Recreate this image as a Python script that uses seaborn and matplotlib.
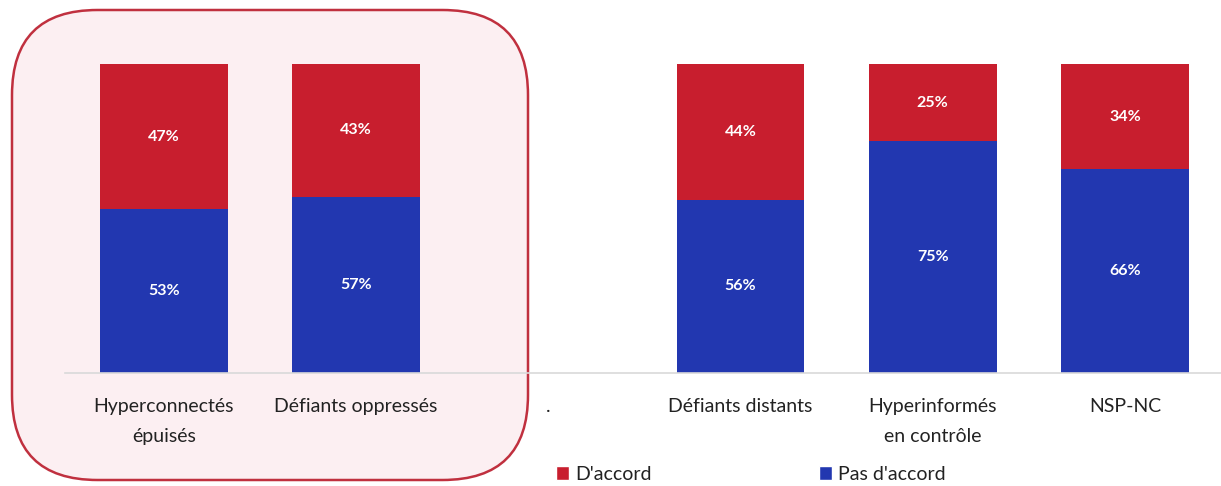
import matplotlib
matplotlib.use("Agg")
import matplotlib.pyplot as plt
import seaborn as sns
import pandas as pd
import numpy as np
from matplotlib.patches import FancyBboxPatch, Patch

categories = ["Hyperconnectés\népuisés", "Défiants oppressés", ".",
              "Défiants distants", "Hyperinformés\nen contrôle", "NSP-NC"]
d_accord = [47, 43, np.nan, 44, 25, 34]
pas_d_accord = [53, 57, np.nan, 56, 75, 66]
series_names = ["D'accord", "Pas d'accord"]

RED = "#C81E2E"
BLUE = "#2237B0"

sns.set_theme(style="white")
plt.rcParams['font.family'] = ['Lato', 'DejaVu Sans']

fig = plt.figure(figsize=(12.21, 4.86), dpi=100)
fig.patch.set_facecolor("white")

# highlight rounded box
box = FancyBboxPatch((12 / 1221, 1 - 480 / 486), (528 - 12) / 1221, (480 - 10) / 486,
                     boxstyle="round,pad=0,rounding_size=0.07",
                     transform=fig.transFigure, facecolor="#FCEFF2",
                     edgecolor="#C0303F", linewidth=1.8, zorder=-5, mutation_aspect=2.5)
fig.patches.append(box)

ax = fig.add_axes([65 / 1221, 1 - 373 / 486, 1 - 65 / 1221, (373 - 64) / 486])
ax.patch.set_alpha(0)
ax.set_zorder(1)

df = pd.DataFrame({"cat": categories,
                   "total": [a + b for a, b in zip(d_accord, pas_d_accord)],
                   "agree": d_accord, "disagree": pas_d_accord})

sns.barplot(data=df, x="cat", y="total", color=RED, width=0.665,
            saturation=1, ax=ax, order=categories, linewidth=0)
sns.barplot(data=df, x="cat", y="disagree", color=BLUE, width=0.665,
            saturation=1, ax=ax, order=categories, linewidth=0)

for i, (a, b) in enumerate(zip(d_accord, pas_d_accord)):
    if np.isnan(a):
        continue
    ax.text(i, b / 2, f"{int(b)}%", ha="center", va="center", color="white",
            fontsize=11.5, fontweight="bold")
    ax.text(i, b + a / 2, f"{int(a)}%", ha="center", va="center", color="white",
            fontsize=11.5, fontweight="bold")

ax.set_ylim(0, 100)
ax.set_xlim(-0.515, 5.5)
ax.set_xlabel("")
ax.set_ylabel("")
ax.set_yticks([])
ax.tick_params(axis="x", length=0, pad=18, labelsize=14, colors="#222222")
for lbl in ax.get_xticklabels():
    lbl.set_linespacing(1.9)
for s in ["top", "right", "left"]:
    ax.spines[s].set_visible(False)
ax.spines["bottom"].set_color("#D9D9D9")
ax.spines["bottom"].set_linewidth(1.2)

handles = [Patch(facecolor=RED, label=series_names[0]),
           Patch(facecolor=BLUE, label=series_names[1])]
fig.legend(handles=handles, loc="center left", bbox_to_anchor=(538 / 1221, 1 - 474 / 486),
           ncol=2, frameon=False, fontsize=14, handlelength=0.7, handleheight=0.7,
           handletextpad=0.3, columnspacing=8.6, labelcolor="#222222")

fig.savefig("out.png", dpi=100, facecolor="white")
